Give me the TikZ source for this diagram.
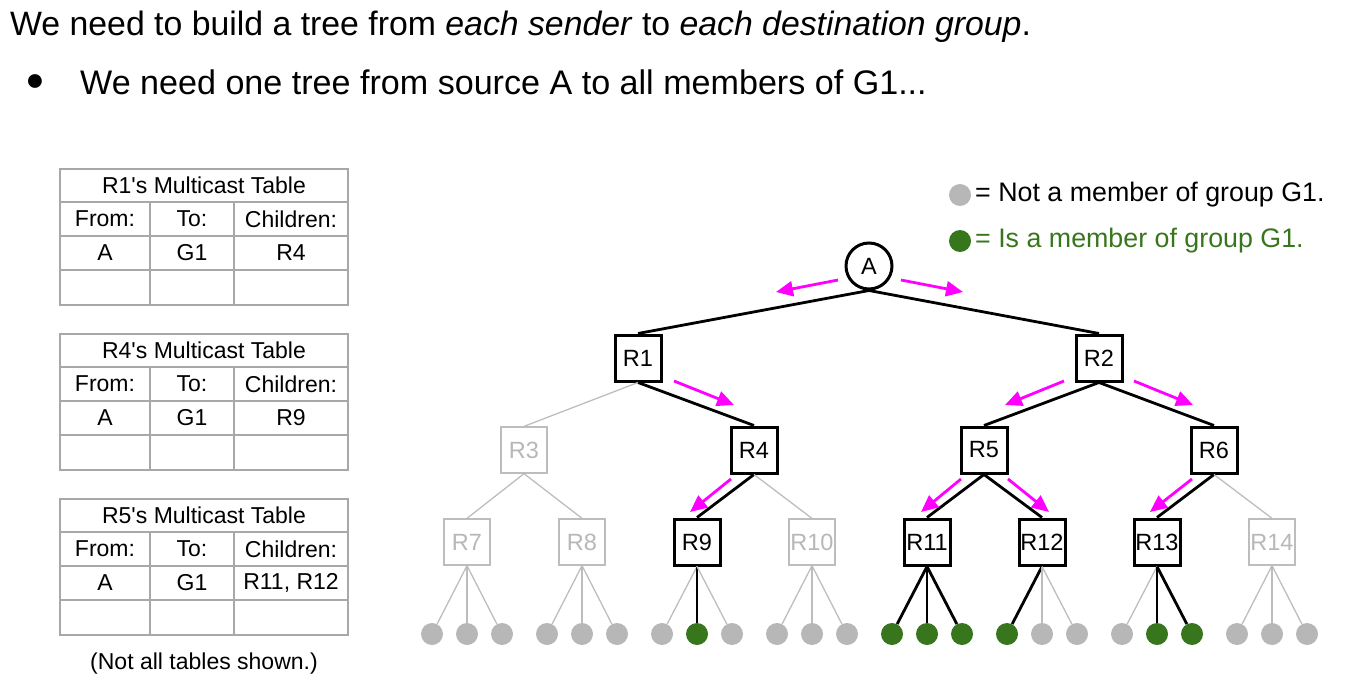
\documentclass[tikz,border=0pt]{standalone}
\usepackage{fontspec}
\setmainfont{Liberation Sans}[Ligatures=TeXOff]
\usetikzlibrary{arrows.meta}
\definecolor{ingroup}{HTML}{38761D}
\definecolor{outgroup}{HTML}{B7B7B7}
\definecolor{fade}{HTML}{BDBDBD}
\definecolor{tblline}{HTML}{A8A8A8}
\definecolor{pushcol}{HTML}{FF00FF}

% one multicast table: #1 = top edge, #2 = name prefix, #3 = router, #4 = children
\newcommand\mcasttable[4]{%
  \begin{scope}[shift={(0,#1)}]
    \draw[tblrule] (60,0) rectangle (348,136);
    \draw[tblrule] (60,33) -- (348,33) (60,67) -- (348,67) (60,101) -- (348,101);
    \draw[tblrule] (150,33) -- (150,136) (234,33) -- (234,136);
    \node[tbltext] (#2title) at (204,16.5) {#3's Multicast Table};
    \node[tbltext] (#2from)  at (105,50) {From:};
    \node[tbltext] (#2to)    at (192,50) {To:};
    \node[tbltext] (#2kids)  at (291,50) {Children:};
    \node[tbltext] (#2src)   at (105,84) {A};
    \node[tbltext] (#2grp)   at (192,84) {G1};
    \node[tbltext] (#2list)  at (291,84) {#4};
  \end{scope}}

\begin{document}
\begin{tikzpicture}[x=1pt,y=-1pt,
  tblrule/.style={draw=tblline,line width=1.4pt},
  tbltext/.style={inner sep=0pt,font=\fontsize{23}{27}\selectfont},
  router/.style={draw=black,line width=3pt,minimum size=46pt,inner sep=0pt,
    font=\fontsize{23.5}{27}\selectfont},
  idle/.style={router,draw=fade,line width=1.3pt,text=outgroup},
  source/.style={circle,draw=black,line width=3pt,minimum size=46pt,inner sep=0pt,
    font=\fontsize{23.5}{27}\selectfont},
  outhost/.style={circle,fill=outgroup,minimum size=22pt,inner sep=0pt},
  inhost/.style={outhost,fill=ingroup},
  live/.style={draw=black,line width=2.8pt},
  dim/.style={draw=fade,line width=1.3pt},
  push/.style={draw=pushcol,line width=2.8pt,-{Triangle[length=17pt,width=15pt]}}
]
\useasboundingbox (0,0) rectangle (1350,682);

% heading
\node[anchor=base west,inner sep=0pt,font=\fontsize{33.8}{40}\selectfont] (head) at (10,36)
  {We need to build a tree from \textit{each sender} to \textit{each destination group}.};
\node[inner sep=0pt,font=\fontsize{32}{36}\selectfont] (dot) at (35,83) {●};
\node[anchor=base west,inner sep=0pt,font=\fontsize{34.1}{40}\selectfont] (sub) at (80,95)
  {We need one tree from source A to all members of G1...};

% multicast tables
\mcasttable{169}{ta}{R1}{R4}
\mcasttable{334}{tb}{R4}{R9}
\mcasttable{499}{tc}{R5}{R11, R12}
\node[inner sep=0pt,font=\fontsize{23}{27}\selectfont] (note) at (204,664) {(Not all tables shown.)};

% legend
\node[outhost] (keyout) at (960,195) {};
\node[anchor=west,inner sep=0pt,font=\fontsize{26.8}{30}\selectfont] (keyouttext) at (975,195)
  {= Not a member of group G1.};
\node[inhost] (keyin) at (960,241) {};
\node[anchor=west,inner sep=0pt,text=ingroup,font=\fontsize{26.8}{30}\selectfont] (keyintext) at (975,241)
  {= Is a member of group G1.};

% routers
\node[source] (A) at (869,266) {A};
\node[router] (R1) at (638,358) {R1};
\node[router] (R2) at (1099,358) {R2};
\node[idle]   (R3) at (524,450) {R3};
\node[router] (R4) at (754,450) {R4};
\node[router] (R5) at (984,450) {R5};
\node[router] (R6) at (1214,450) {R6};
\node[idle]   (R7) at (467,542) {R7};
\node[idle]   (R8) at (582,542) {R8};
\node[router] (R9) at (697,542) {R9};
\node[idle]   (R10) at (812,542) {R10};
\node[router] (R11) at (927,542) {R11};
\node[router] (R12) at (1042,542) {R12};
\node[router] (R13) at (1157,542) {R13};
\node[idle]   (R14) at (1272,542) {R14};

% hosts
\foreach \r/\x/\ta/\tb/\tc in {7/467/outhost/outhost/outhost, 8/582/outhost/outhost/outhost,
    9/697/outhost/inhost/outhost, 10/812/outhost/outhost/outhost,
    11/927/inhost/inhost/inhost, 12/1042/inhost/outhost/outhost,
    13/1157/outhost/inhost/inhost, 14/1272/outhost/outhost/outhost}{
  \node[\ta] (L\r a) at (\x-35,634) {};
  \node[\tb] (L\r b) at (\x,634) {};
  \node[\tc] (L\r c) at (\x+35,634) {};
}

% links
\draw[live] (A.south) -- (R1.north);
\draw[live] (A.south) -- (R2.north);
\draw[dim]  (R1.south) -- (R3.north);
\draw[live] (R1.south) -- (R4.north);
\draw[live] (R2.south) -- (R5.north);
\draw[live] (R2.south) -- (R6.north);
\draw[dim]  (R3.south) -- (R7.north);
\draw[dim]  (R3.south) -- (R8.north);
\draw[live] (R4.south) -- (R9.north);
\draw[dim]  (R4.south) -- (R10.north);
\draw[live] (R5.south) -- (R11.north);
\draw[live] (R5.south) -- (R12.north);
\draw[live] (R6.south) -- (R13.north);
\draw[dim]  (R6.south) -- (R14.north);

\foreach \r in {7,8,10,14}{
  \draw[dim] (R\r.south) -- (L\r a);
  \draw[dim] (R\r.south) -- (L\r b);
  \draw[dim] (R\r.south) -- (L\r c);
}
\draw[dim]  (R9.south) -- (L9a);
\draw[live] (R9.south) -- (L9b);
\draw[dim]  (R9.south) -- (L9c);
\draw[live] (R11.south) -- (L11a);
\draw[live] (R11.south) -- (L11b);
\draw[live] (R11.south) -- (L11c);
\draw[live] (R12.south) -- (L12a);
\draw[dim]  (R12.south) -- (L12b);
\draw[dim]  (R12.south) -- (L12c);
\draw[dim]  (R13.south) -- (L13a);
\draw[live] (R13.south) -- (L13b);
\draw[live] (R13.south) -- (L13c);

% forwarding arrows along the tree
\coordinate (p1s) at (838,280);  \coordinate (p1e) at (776,292);
\coordinate (p2s) at (901,280);  \coordinate (p2e) at (963,292);
\coordinate (p3s) at (674,381);  \coordinate (p3e) at (734,405);
\coordinate (p4s) at (1064,381); \coordinate (p4e) at (1005,405);
\coordinate (p5s) at (1134,381); \coordinate (p5e) at (1193,405);
\coordinate (p6s) at (731,479);  \coordinate (p6e) at (690,512);
\coordinate (p7s) at (961,479);  \coordinate (p7e) at (921,512);
\coordinate (p8s) at (1008,479); \coordinate (p8e) at (1049,512);
\coordinate (p9s) at (1192,479); \coordinate (p9e) at (1150,512);
\foreach \k in {1,...,9}{
  \draw[push] (p\k s) -- (p\k e);
}
\end{tikzpicture}
\end{document}
